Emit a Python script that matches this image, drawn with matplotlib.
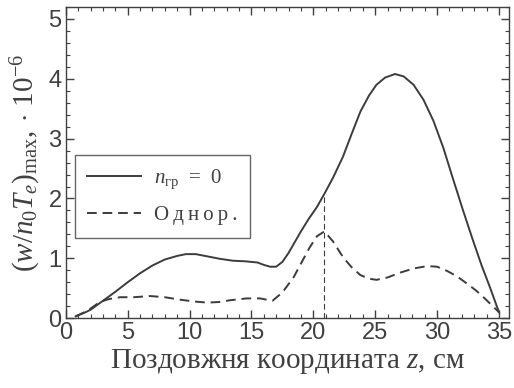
import numpy as np
import matplotlib.pyplot as plt
from matplotlib.ticker import MultipleLocator

plt.rcParams['mathtext.fontset'] = 'custom'
plt.rcParams['mathtext.rm'] = 'Liberation Serif'
plt.rcParams['mathtext.it'] = 'Liberation Serif:italic'

# Криві
z_solid = [0.8, 1.5, 2, 3, 4, 5, 6, 7, 8, 9, 9.7, 10.5, 11.5, 12.5, 13.5, 14.5, 15.5,
           16.0, 16.5, 17.0, 17.5, 18.0, 18.5, 19.0, 19.6, 20.3, 20.9, 21.6, 22.4, 23.1,
           23.8, 24.5, 25.1, 25.8, 26.6, 27.3, 28.1, 28.9, 29.7, 30.5, 31.3, 32.1, 32.9,
           33.6, 34.3, 35.0]
w_solid = [0.03, 0.09, 0.14, 0.29, 0.44, 0.60, 0.75, 0.88, 0.98, 1.04, 1.07, 1.07, 1.03,
           0.99, 0.96, 0.95, 0.93, 0.89, 0.86, 0.86, 0.94, 1.09, 1.27, 1.45, 1.65, 1.86,
           2.08, 2.35, 2.70, 3.08, 3.45, 3.72, 3.90, 4.02, 4.08, 4.04, 3.90, 3.65, 3.30,
           2.85, 2.32, 1.80, 1.30, 0.88, 0.50, 0.10]

z_dash = [0.8, 1.5, 2, 2.75, 3.5, 4.4, 5.5, 6.8, 8.0, 9.2, 10.3, 11.4, 12.4, 13.3, 14.6,
          15.7, 16.7, 17.5, 18.4, 19.1, 19.7, 20.3, 20.9, 21.6, 22.4, 23.1, 23.8, 24.5,
          25.1, 26.0, 27.0, 28.1, 29.2, 30.0, 30.8, 31.6, 32.4, 33.1, 33.7, 34.3, 35.0]
w_dash = [0.03, 0.10, 0.16, 0.27, 0.32, 0.35, 0.35, 0.37, 0.35, 0.31, 0.28, 0.26, 0.27,
          0.30, 0.33, 0.33, 0.29, 0.43, 0.68, 0.95, 1.18, 1.37, 1.45, 1.28, 1.02, 0.85,
          0.72, 0.66, 0.64, 0.68, 0.76, 0.83, 0.87, 0.86, 0.79, 0.70, 0.58, 0.47, 0.36,
          0.24, 0.10]

# межа області (вертикальна штрихова лінія)
z_cut = 20.9
w_cut = 2.08

line_col = '#3c3c3c'
text_col = '#404040'

fig = plt.figure(figsize=(5.14, 3.88), dpi=100)
ax = fig.add_axes([0.128, 0.180, 0.862, 0.802])

ax.plot(z_solid, w_solid, color=line_col, lw=1.4, label=r'$n_{\mathrm{гр}}$  =  0')
ax.plot(z_dash, w_dash, color=line_col, lw=1.4, ls=(0, (5, 3)),
        label='О\u2009д\u2009н\u2009о\u2009р\u2009.')
ax.plot([z_cut, z_cut], [0, w_cut], color=line_col, lw=0.8, ls=(0, (5, 3)))

ax.set_xlim(0, 35.8)
ax.set_ylim(0, 5.2)
ax.xaxis.set_major_locator(MultipleLocator(5))
ax.xaxis.set_minor_locator(MultipleLocator(1))
ax.yaxis.set_major_locator(MultipleLocator(1))
ax.yaxis.set_minor_locator(MultipleLocator(0.2))
ax.tick_params(which='both', direction='in', top=True, right=True, colors=text_col,
               labelsize=17, pad=3)
ax.tick_params(which='major', length=6, width=1)
ax.tick_params(which='minor', length=3, width=0.8)
for lab in ax.get_xticklabels() + ax.get_yticklabels():
    lab.set_fontfamily('Liberation Sans')
for sp in ax.spines.values():
    sp.set_color(text_col)
    sp.set_linewidth(1.0)

ax.set_xlabel(r'Поздовжня координата $z$, см', family='Liberation Serif',
              fontsize=21, color=text_col, labelpad=2)
ax.set_ylabel(r'$(w/n_0T_e)_{\mathrm{max}},\cdot\,10^{-6}$', fontsize=21,
              color=text_col, labelpad=4)

leg = ax.legend(loc='upper left', bbox_to_anchor=(0.02, 0.524), borderaxespad=0,
                fancybox=False, frameon=True, handlelength=2.6,
                borderpad=0.6, labelspacing=0.7, handletextpad=0.6,
                prop={'family': 'Liberation Serif', 'size': 15})
leg.get_frame().set_edgecolor(text_col)
leg.get_frame().set_linewidth(1.0)
for t in leg.get_texts():
    t.set_color(text_col)

fig.savefig('out.png', dpi=100)
